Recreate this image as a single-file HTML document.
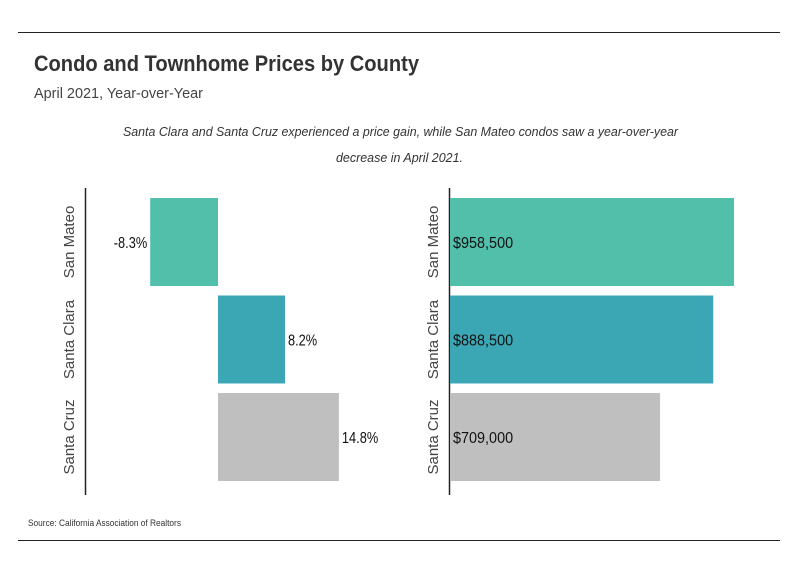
<!DOCTYPE html>
<html><head><meta charset="utf-8"><style>
body{margin:0;background:#fff;}
svg text{font-family:"Liberation Sans Narrow","Liberation Sans",sans-serif;}
</style></head><body>
<svg width="799" height="575" viewBox="0 0 799 575" xmlns="http://www.w3.org/2000/svg">
<line x1="18" y1="32.5" x2="780" y2="32.5" stroke="#222" stroke-width="1"/>
<line x1="18" y1="540.5" x2="780" y2="540.5" stroke="#222" stroke-width="1"/>
<text x="34" y="71" font-size="22" font-weight="bold" fill="#333" textLength="385" lengthAdjust="spacingAndGlyphs">Condo and Townhome Prices by County</text>
<text x="34" y="98" font-size="15" fill="#444" textLength="169" lengthAdjust="spacingAndGlyphs">April 2021, Year-over-Year</text>
<text x="123" y="136" font-size="13" font-style="italic" fill="#333" textLength="555" lengthAdjust="spacingAndGlyphs">Santa Clara and Santa Cruz experienced a price gain, while San Mateo condos saw a year-over-year</text>
<text x="336" y="162" font-size="13" font-style="italic" fill="#333" textLength="127" lengthAdjust="spacingAndGlyphs">decrease in April 2021.</text>
<text x="28" y="526" font-size="9" fill="#333" textLength="153" lengthAdjust="spacingAndGlyphs">Source:  California Association of Realtors</text>
<g id="left"></g>
<g id="right"></g>
</svg>
<script>
const categories=["San Mateo","Santa Clara","Santa Cruz"];
const changePct=[-8.3,8.2,14.8];
const prices=[958500,888500,709000];
const colors=["#52bfab","#3ba7b5","#bfbfbf"];
const NS="http://www.w3.org/2000/svg";
function mk(tag,attrs,parent){const e=document.createElementNS(NS,tag);for(const k in attrs)e.setAttribute(k,attrs[k]);parent.appendChild(e);return e;}
function narrow(t,f){const w=t.getComputedTextLength();t.setAttribute('textLength',(w*f).toFixed(1));t.setAttribute('lengthAdjust','spacingAndGlyphs');}
const bandTop=198,bandStep=97.5,barH=88;
function yBand(i){return bandTop+i*bandStep;}
const L=document.getElementById('left');
const xL=v=>218+v*8.17;
const axL=mk('line',{x1:85.5,y1:188,x2:85.5,y2:495,stroke:'#222','stroke-width':1.5},L);


categories.forEach((c,i)=>{
  const v=changePct[i],x0=Math.min(xL(0),xL(v)),w=Math.abs(xL(v)-xL(0));
  const r=mk('rect',{x:x0,y:yBand(i),width:w,height:barH,fill:colors[i]},L);
  
  
  const t=mk('text',{x:v<0?x0-3:x0+w+3,y:yBand(i)+barH/2+6,'font-size':16,fill:'#111','text-anchor':v<0?'end':'start'},L);
  t.textContent=v.toFixed(1)+'%';
  
  
  narrow(t,0.8);
  const cl=mk('text',{transform:`translate(74,${yBand(i)+barH/2}) rotate(-90)`,'font-size':15,fill:'#444','text-anchor':'middle'},L);
  cl.textContent=c;
  
  
});
const R=document.getElementById('right');
const xR=v=>450+v*0.0002963;
const axR=mk('line',{x1:449.5,y1:188,x2:449.5,y2:495,stroke:'#222','stroke-width':1.5},R);


categories.forEach((c,i)=>{
  const v=prices[i];
  const r=mk('rect',{x:xR(0),y:yBand(i),width:xR(v)-xR(0),height:barH,fill:colors[i]},R);
  
  
  const t=mk('text',{x:453,y:yBand(i)+barH/2+6,'font-size':16,fill:'#111'},R);
  t.textContent='$'+v.toLocaleString('en-US');
  
  
  narrow(t,0.9);
  const cl=mk('text',{transform:`translate(438,${yBand(i)+barH/2}) rotate(-90)`,'font-size':15,fill:'#444','text-anchor':'middle'},R);
  cl.textContent=c;
  
  
});
</script>
</body></html>
